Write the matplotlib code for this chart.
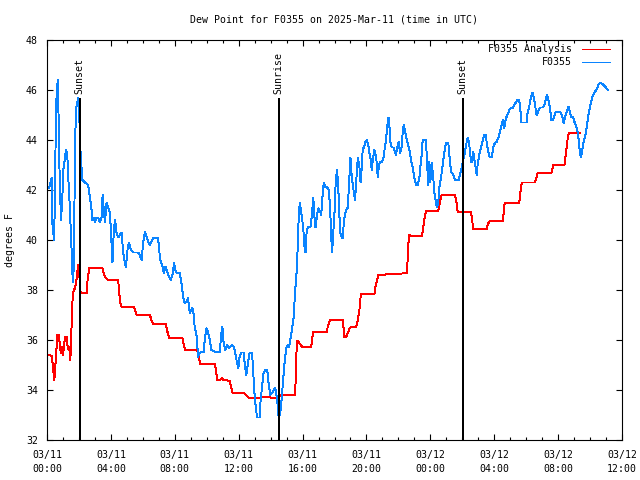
import matplotlib
matplotlib.use("Agg")
import matplotlib.pyplot as plt
from matplotlib.ticker import MultipleLocator

# ---------------- data (hours since 2025-03-11 00:00 UTC, dew point in F) -------------
obs_hours = [0.125,0.29,0.33,0.44,0.5,0.56,0.67,0.71,0.75,0.81,0.875,0.96,1.02,1.19,1.27,1.33,1.40,1.48,1.54,1.58,
             1.65,1.71,1.75,1.81,1.90,1.96,2.02,2.06,2.08,2.125,2.21,2.375,2.58,2.69,2.79,2.83,2.94,3.0,3.1,3.2,
             3.31,3.42,3.48,3.56,3.625,3.73,3.83,3.94,4.04,4.10,4.19,4.27,4.35,4.46,4.56,4.67,4.77,4.875,4.94,5.04,
             5.125,5.25,5.4,5.71,5.81,5.92,6.02,6.125,6.23,6.33,6.44,6.54,6.65,6.96,7.02,7.1,7.23,7.31,7.42,7.52,
             7.65,7.75,7.85,7.96,8.06,8.17,8.31,8.42,8.52,8.63,8.73,8.83,8.94,9.04,9.1,9.19,9.25,9.35,9.4,9.46,
             9.56,9.67,9.81,9.875,9.98,10.08,10.19,10.29,10.5,10.81,10.92,10.98,11.06,11.17,11.27,11.375,11.48,11.58,11.69,11.79,
             11.9,11.98,12.06,12.17,12.31,12.375,12.48,12.58,12.69,12.83,12.9,12.96,13.04,13.15,13.31,13.375,13.46,13.56,13.67,13.79,
             13.875,13.98,14.08,14.19,14.29,14.35,14.42,14.46,14.52,14.6,14.67,14.77,14.875,14.98,15.08,15.15,15.23,15.33,15.44,15.54,
             15.65,15.71,15.77,15.83,15.9,15.96,16.04,16.125,16.19,16.25,16.33,16.5,16.6,16.67,16.75,16.81,16.92,17.0,17.06,17.17,
             17.23,17.33,17.42,17.54,17.65,17.73,17.79,17.85,17.92,18.0,18.06,18.15,18.21,18.27,18.35,18.46,18.52,18.58,18.65,18.73,
             18.83,18.9,19.0,19.08,19.19,19.29,19.35,19.46,19.56,19.63,19.71,19.77,19.83,19.92,20.02,20.13,20.19,20.27,20.33,20.4,
             20.5,20.56,20.65,20.71,20.77,20.85,20.96,21.06,21.13,21.23,21.29,21.38,21.44,21.5,21.58,21.69,21.79,21.85,21.92,22.02,
             22.1,22.19,22.27,22.33,22.4,22.5,22.58,22.69,22.79,22.9,23.0,23.1,23.21,23.31,23.375,23.46,23.52,23.73,23.79,23.875,
             23.94,24.0,24.08,24.17,24.25,24.35,24.42,24.5,24.56,24.67,24.77,24.875,24.98,25.125,25.19,25.25,25.33,25.44,25.54,25.77,
             25.875,25.96,26.06,26.17,26.27,26.35,26.44,26.5,26.58,26.69,26.75,26.81,26.9,26.96,27.06,27.17,27.27,27.375,27.48,27.54,
             27.63,27.73,27.85,27.94,28.04,28.15,28.25,28.35,28.46,28.54,28.63,28.73,28.83,28.94,29.04,29.15,29.25,29.35,29.46,29.56,
             29.625,29.69,29.875,30.02,30.08,30.19,30.29,30.4,30.46,30.54,30.65,30.75,30.85,31.06,31.17,31.29,31.375,31.48,31.58,31.69,
             31.81,31.9,32.0,32.17,32.27,32.35,32.44,32.54,32.65,32.71,32.81,32.92,33.02,33.13,33.23,33.29,33.35,33.42,33.5,33.58,
             33.69,33.81,33.92,34.02,34.13,34.27,34.42,34.52,34.625,34.79,34.96,35.1]
obs_dewpt = [42.07,42.5,40.7,40.0,41.7,45.3,46.4,45.5,43.7,42.1,40.8,41.7,42.8,43.6,43.4,42.5,41.7,40.5,39.6,38.7,
             38.3,40.8,43.5,45.2,45.5,45.7,44.7,45.6,43.7,43.3,42.4,42.3,42.2,41.7,41.2,40.8,40.9,40.7,40.9,40.9,
             40.7,40.9,41.8,41.2,40.7,41.5,41.3,41.1,39.9,39.1,40.5,40.8,40.3,40.1,40.2,40.3,39.5,39.1,38.9,39.6,
             39.9,39.6,39.5,39.5,39.4,39.2,39.87,40.33,40.13,39.93,39.8,39.93,40.07,40.07,39.6,39.2,38.93,38.67,38.93,38.73,
             38.53,38.4,38.6,39.07,38.73,38.67,38.67,38.27,37.73,37.47,37.53,37.67,37.07,37.2,37.27,37.0,36.47,36.27,35.87,35.33,
             35.47,35.53,35.53,36.0,36.47,36.33,36.0,35.6,35.53,35.53,36.27,36.53,35.87,35.6,35.8,35.67,35.73,35.8,35.73,35.47,
             35.07,34.87,35.33,35.5,35.5,35.07,34.6,35.07,35.5,35.5,34.93,34.1,33.5,32.9,32.9,33.6,34.1,34.7,34.8,34.8,
             34.27,33.8,33.87,34.0,34.1,33.87,33.6,33.1,32.9,33.07,33.5,34.3,35.1,35.7,35.8,35.7,36.0,36.4,36.9,38.0,
             38.9,40.0,41.1,41.5,41.2,40.9,40.5,39.7,39.5,40.27,40.5,40.53,41.1,41.7,40.87,40.5,41.07,41.27,41.2,41.0,
             41.6,42.3,42.13,42.1,42.0,41.2,40.2,39.5,40.27,41.1,42.1,42.8,42.4,41.6,40.3,40.1,40.07,40.7,41.0,41.2,
             41.3,42.1,43.3,42.53,42.0,41.6,42.27,43.3,42.93,42.3,42.93,43.7,43.67,43.9,44.0,43.73,43.47,43.2,42.8,43.2,
             43.6,43.47,43.07,42.5,42.93,43.13,43.13,43.27,43.6,44.0,44.5,44.9,44.53,43.9,43.7,43.7,43.53,43.4,43.67,43.93,
             43.47,43.67,44.3,44.6,44.4,44.07,43.87,43.6,43.2,42.9,42.5,42.2,42.2,42.47,42.93,43.4,44.0,44.0,43.1,42.2,
             43.13,42.33,43.1,42.6,41.9,41.5,41.3,41.53,42.07,42.5,43.0,43.5,43.9,43.9,43.4,43.0,42.7,42.6,42.4,42.4,
             42.67,42.87,43.2,43.53,43.9,44.1,43.8,43.4,43.1,43.53,43.27,43.0,42.6,43.0,43.4,43.67,43.93,44.2,44.2,43.8,
             43.53,43.3,43.3,43.73,43.87,43.93,44.07,44.3,44.6,44.8,44.47,44.87,45.0,45.2,45.27,45.27,45.4,45.5,45.6,45.6,
             45.33,44.7,44.7,44.7,45.07,45.33,45.7,45.9,45.73,45.47,45.0,45.13,45.3,45.3,45.47,45.8,45.67,45.33,44.8,44.8,
             45.07,45.13,45.13,45.1,44.93,44.67,44.93,45.13,45.33,45.2,44.93,44.93,44.73,44.53,44.3,44.0,43.6,43.3,43.53,43.87,
             44.13,44.6,45.1,45.4,45.7,45.9,46.03,46.2,46.3,46.24,46.13,46.0]

ana_hours = [0.125,0.29,0.33,0.4,0.46,0.52,0.58,0.65,0.75,0.81,0.875,0.94,1.0,1.06,1.125,1.23,1.29,1.35,1.4,1.46,
             1.5,1.54,1.6,1.67,1.75,1.81,1.875,1.94,2.0,2.04,2.08,2.1,2.48,2.54,2.65,3.48,3.58,3.69,3.83,4.46,
             4.5,4.58,4.67,5.46,5.54,5.625,6.44,6.54,6.65,7.44,7.54,7.65,8.48,8.56,8.65,9.4,9.5,9.6,10.52,10.6,
             10.67,10.81,10.96,11.06,11.44,11.52,11.63,12.33,12.48,12.625,12.96,13.31,13.52,13.83,14.04,14.25,14.46,14.6,15.52,15.56,
             15.6,15.67,15.81,15.92,16.02,16.54,16.6,16.67,17.5,17.58,17.73,18.52,18.56,18.625,18.73,18.83,18.94,19.04,19.35,19.46,
             19.56,19.65,20.5,20.56,20.65,20.75,21.65,22.52,22.58,22.625,22.69,22.79,23.48,23.56,23.65,23.73,24.5,24.6,24.71,25.54,
             25.65,25.71,26.54,26.6,26.69,27.52,27.625,27.73,28.52,28.58,28.65,29.56,29.67,29.73,30.56,30.65,30.71,31.58,31.65,31.71,
             32.4,32.46,32.54,32.6,32.67,33.4]
ana_dewpt = [35.4,35.36,35.2,34.73,34.4,34.93,35.53,36.2,36.2,35.73,35.47,35.73,35.4,35.73,36.13,36.13,35.73,35.6,35.73,35.2,
             35.73,36.6,37.6,38.0,38.07,38.27,38.53,39.0,38.8,38.47,38.6,37.87,37.87,38.4,38.87,38.87,38.6,38.47,38.4,38.4,
             38.0,37.53,37.31,37.31,37.13,37.0,37.0,36.8,36.64,36.64,36.33,36.09,36.09,35.8,35.6,35.6,35.33,35.03,35.03,34.67,
             34.4,34.4,34.47,34.4,34.37,34.13,33.87,33.87,33.8,33.69,33.67,33.69,33.73,33.73,33.69,33.67,33.67,33.8,33.8,34.27,
             35.33,35.97,35.87,35.76,35.71,35.71,36.07,36.31,36.31,36.53,36.8,36.8,36.53,36.11,36.13,36.27,36.47,36.51,36.51,36.8,
             37.2,37.84,37.84,38.13,38.33,38.6,38.64,38.67,39.2,39.87,40.2,40.16,40.16,40.53,40.93,41.16,41.16,41.53,41.8,41.8,
             41.47,41.13,41.13,40.87,40.44,40.44,40.67,40.76,40.76,41.0,41.47,41.47,42.07,42.3,42.3,42.53,42.67,42.67,42.87,43.0,
             43.0,43.33,43.73,44.07,44.27,44.27]

series_labels = ["F0355 Analysis", "F0355"]
series_colors = ["#ff0000", "#0a84ff"]

event_hours = [2.05, 14.5, 26.02]
event_labels = ["Sunset", "Sunrise", "Sunset"]
event_top = 45.64

x_tick_hours = [0, 4, 8, 12, 16, 20, 24, 28, 32, 36]
x_tick_labels = ["03/11\n00:00", "03/11\n04:00", "03/11\n08:00", "03/11\n12:00", "03/11\n16:00",
                 "03/11\n20:00", "03/12\n00:00", "03/12\n04:00", "03/12\n08:00", "03/12\n12:00"]
y_ticks = [32, 34, 36, 38, 40, 42, 44, 46, 48]

title = "Dew Point for F0355 on 2025-Mar-11 (time in UTC)"
ylabel = "degrees F"

# ---------------- drawing -------------
plt.rcParams['font.family'] = ['DejaVu Sans Mono']
FS = 7.15
LW = 0.7

fig = plt.figure(figsize=(6.4, 4.8), dpi=100)
ax = fig.add_axes([47/640, 40/480, 575/640, 400/480])

ax.plot(ana_hours, ana_dewpt, color=series_colors[0], lw=LW, antialiased=False)
ax.plot(obs_hours, obs_dewpt, color=series_colors[1], lw=LW, antialiased=False)

for h, lab in zip(event_hours, event_labels):
    ax.plot([h, h], [32, event_top], color='black', lw=1.2, antialiased=False)
    ax.text(h, event_top + 0.18, lab, rotation=90, ha='center', va='bottom', fontsize=FS)

ax.set_xlim(0, 36)
ax.set_ylim(32, 48)
ax.set_xticks(x_tick_hours)
ax.set_xticklabels(x_tick_labels)
ax.xaxis.set_minor_locator(MultipleLocator(1))
ax.set_yticks(y_ticks)
ax.tick_params(which='both', direction='in', top=True, right=True, labelsize=FS, width=0.8)
ax.tick_params(which='major', length=4.5)
ax.tick_params(which='minor', length=2.2)
ax.tick_params(axis='x', pad=7.5)
ax.tick_params(axis='y', pad=6.5)
for lab in ax.get_xticklabels():
    lab.set_linespacing(1.45)
for sp in ax.spines.values():
    sp.set_linewidth(0.8)

# gnuplot-style key: right-justified text followed by line sample
for i, (lab, col) in enumerate(zip(series_labels, series_colors)):
    yk = 1 - (9.5 + 13 * i) / 400
    ax.text(525/575, yk, lab, transform=ax.transAxes, ha='right', va='center', fontsize=FS)
    ax.plot([535/575, 563/575], [yk, yk], transform=ax.transAxes, color=col, lw=LW, antialiased=False)

fig.text(334.5/640, 1 - 19/480, title, ha='center', va='center', fontsize=FS)
fig.text(10/640, 240/480, ylabel, rotation=90, ha='center', va='center', fontsize=FS)

fig.savefig("out.png", dpi=100)
